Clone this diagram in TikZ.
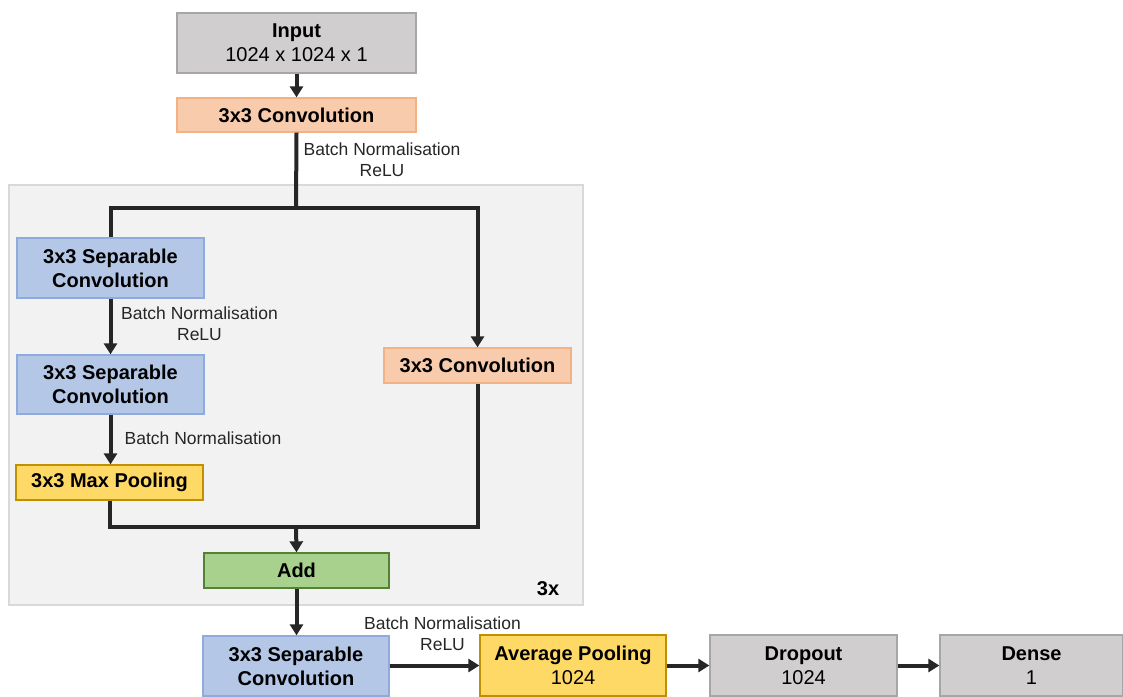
\documentclass[tikz,border=0pt]{standalone}
\usepackage{fontspec}
\setmainfont{Liberation Sans}
\usetikzlibrary{arrows.meta}
\definecolor{grayfill}{HTML}{D0CECE}
\definecolor{grayline}{HTML}{A6A6A6}
\definecolor{orfill}{HTML}{F8CBAD}
\definecolor{orline}{HTML}{F4B183}
\definecolor{blfill}{HTML}{B4C7E7}
\definecolor{blline}{HTML}{8FAADC}
\definecolor{yefill}{HTML}{FFD966}
\definecolor{yeline}{HTML}{BF9000}
\definecolor{grfill}{HTML}{A9D18E}
\definecolor{grline}{HTML}{548235}
\definecolor{panelfill}{HTML}{F2F2F2}
\definecolor{panelline}{HTML}{D9D9D9}
\definecolor{conn}{HTML}{262626}
\tikzset{
  box/.style={draw, line width=1.3pt, inner sep=0pt, align=center,
    font=\fontsize{20}{24}\selectfont},
  graybox/.style={box, fill=grayfill, draw=grayline},
  orbox/.style={box, fill=orfill, draw=orline},
  blbox/.style={box, fill=blfill, draw=blline},
  yebox/.style={box, fill=yefill, draw=yeline},
  grbox/.style={box, fill=grfill, draw=grline},
  lbl/.style={align=center, inner sep=0pt, font=\fontsize{17.5}{21}\selectfont, text=conn},
  conline/.style={draw=conn, line width=4pt},
  arr/.style={conline, -{Triangle[length=11pt,width=13pt]}},
}
\begin{document}
\begin{tikzpicture}[x=1pt,y=-1pt]
\useasboundingbox (0,0) rectangle (1123,696);
% panel
\node[draw=panelline, fill=panelfill, line width=1.5pt, minimum width=574pt, minimum height=420pt, inner sep=0pt] (panel) at (296,395) {};
\node[font=\fontsize{20}{24}\selectfont\bfseries, inner sep=0pt] (rep) at (548,589) {3x};
% boxes
\node[graybox, minimum width=239pt, minimum height=60pt] (input) at (296.5,43) {\textbf{Input}\\1024 x 1024 x 1};
\node[orbox, minimum width=239pt, minimum height=34pt] (conv1) at (296.5,115) {\textbf{3x3 Convolution}};
\node[blbox, minimum width=187pt, minimum height=60pt] (sep1) at (110.5,268) {\textbf{3x3 Separable}\\\textbf{Convolution}};
\node[blbox, minimum width=187pt, minimum height=59pt] (sep2) at (110.5,384.5) {\textbf{3x3 Separable}\\\textbf{Convolution}};
\node[yebox, minimum width=187pt, minimum height=35pt] (maxp) at (109.5,482.5) {\textbf{3x3 Max Pooling}};
\node[orbox, minimum width=187pt, minimum height=35pt] (conv2) at (477.5,365.5) {\textbf{3x3 Convolution}};
\node[grbox, minimum width=185pt, minimum height=35pt] (add) at (296.5,570.5) {\textbf{Add}};
\node[blbox, minimum width=186pt, minimum height=60pt] (sep3) at (296,666) {\textbf{3x3 Separable}\\\textbf{Convolution}};
\node[yebox, minimum width=186pt, minimum height=61pt] (avg) at (573,665.5) {\textbf{Average Pooling}\\1024};
\node[graybox, minimum width=187pt, minimum height=61pt] (drop) at (803.5,665.5) {\textbf{Dropout}\\1024};
\node[graybox, minimum width=183pt, minimum height=61pt] (dense) at (1031.5,665.5) {\textbf{Dense}\\1};
% labels
\node[lbl] (l1) at (382,159.5) {Batch Normalisation\\ReLU};
\node[lbl] (l2) at (199.5,324) {Batch Normalisation\\ReLU};
\node[lbl] (l3) at (203,438) {Batch Normalisation};
\node[lbl] (l4) at (442.5,633.5) {Batch Normalisation\\ReLU};
% connectors
\coordinate (split) at (296,208);
\coordinate (join) at (296,527);
\draw[arr] (input.south) -- (conv1.north);
\draw[conline] (conv1.south) -- (split);
\draw[conline] (split) -| (sep1.north);
\draw[arr] (split) -| (conv2.north);
\draw[arr] (sep1.south) -- (sep2.north);
\draw[arr] (sep2.south) -- (sep2.south |- maxp.north);
\draw[conline] (maxp.south) |- (join);
\draw[conline] (conv2.south) |- (join);
\draw[arr] (join) -- (add.north);
\draw[arr] (add.south) -- (add.south |- sep3.north);
\draw[arr] (sep3.east |- avg.west) -- (avg.west);
\draw[arr] (avg.east) -- (drop.west);
\draw[arr] (drop.east) -- (dense.west);
\end{tikzpicture}
\end{document}
